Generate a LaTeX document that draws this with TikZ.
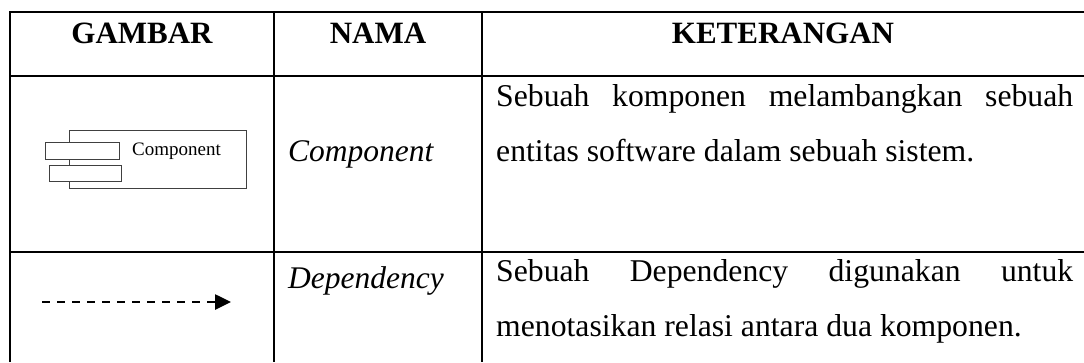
\documentclass[tikz,border=0pt]{standalone}
\usepackage{fontspec}
\setmainfont{Liberation Serif}
\usetikzlibrary{arrows.meta}

\tikzset{
  tablerule/.style={line width=2.6pt, black},
  headtext/.style={anchor=base, inner sep=0pt, font=\fontsize{31}{37}\selectfont\bfseries},
  nametext/.style={anchor=base west, inner sep=0pt, font=\fontsize{31.5}{37}\selectfont\itshape},
  bodytext/.style={anchor=base west, inner sep=0pt, font=\fontsize{31.7}{37}\selectfont},
  iconline/.style={line width=1pt, draw=black!75},
  iconlbl/.style={anchor=base west, inner sep=0pt, font=\fontsize{19}{23}\selectfont},
  depline/.style={line width=2.6pt, dash pattern=on 8pt off 7pt,
                  -{Triangle[length=16pt,width=15pt]}}
}

\begin{document}
\begin{tikzpicture}[x=1pt,y=-1pt]
  \useasboundingbox (0,0) rectangle (1084,362);
  \fill[white] (0,0) rectangle (1084,362);

  % table rules
  \draw[tablerule] (10,362) -- (10,12) -- (1084,12);
  \draw[tablerule] (10,76) -- (1084,76);
  \draw[tablerule] (10,252) -- (1084,252);
  \draw[tablerule] (274,12) -- (274,362);
  \draw[tablerule] (482,12) -- (482,362);

  % header
  \node[headtext] (hGambar) at (142,43) {GAMBAR};
  \node[headtext] (hNama) at (378,43) {NAMA};
  \node[headtext] (hKet) at (783,43) {KETERANGAN};

  % component symbol
  \draw[iconline] (69.5,130) rectangle (246,188);
  \filldraw[iconline, fill=white] (45.5,142) rectangle (119.5,159);
  \filldraw[iconline, fill=white] (49,165) rectangle (121.5,181);
  \node[iconlbl] (cLabel) at (132,155) {Component};

  % dependency symbol
  \coordinate (dStart) at (42,302);
  \coordinate (dEnd) at (231,302);
  \draw[depline] (dStart) -- (dEnd);

  % names
  \node[nametext] (nComp) at (288,161) {Component};
  \node[nametext] (nDep) at (288,288) {Dependency};

  % descriptions
  \node[bodytext] (k1a) at (496,106) {\makebox[577pt][s]{Sebuah komponen melambangkan sebuah}};
  \node[bodytext] (k1b) at (496,161) {entitas software dalam sebuah sistem.};
  \node[bodytext] (k2a) at (496,281) {\makebox[577pt][s]{Sebuah Dependency digunakan untuk}};
  \node[bodytext] (k2b) at (496,336) {menotasikan relasi antara dua komponen.};
\end{tikzpicture}
\end{document}
